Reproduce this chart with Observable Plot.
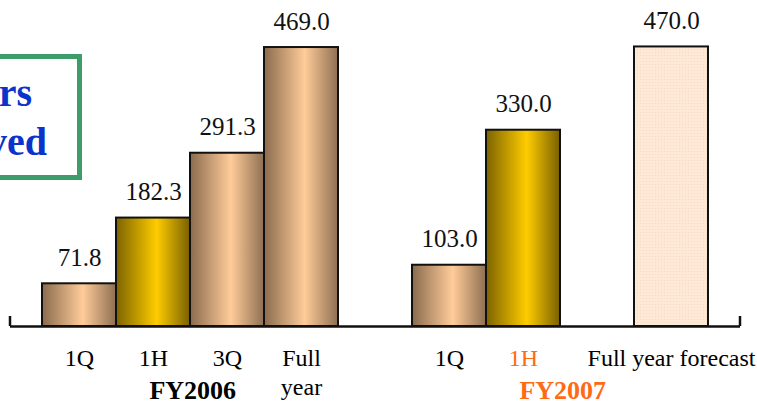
<!DOCTYPE html>
<html>
<head>
<meta charset="utf-8">
<script src="https://cdn.jsdelivr.net/npm/d3@7"></script>
<script src="https://cdn.jsdelivr.net/npm/@observablehq/plot@0.6"></script>
<style>
  html, body { margin: 0; padding: 0; background: #fff; }
  #wrap { position: relative; width: 757px; height: 405px; overflow: hidden; }
  #box { position: absolute; left: -60px; top: 54px; width: 132px; height: 116px;
         border: 5px solid #3c9d6b; background: #fff; }
  .boxtxt { position: absolute; font-family: "Liberation Serif", "Times New Roman", serif;
            font-weight: bold; font-size: 40px; line-height: 40px; color: #0a34cc;
            text-align: right; white-space: nowrap; }
</style>
</head>
<body>
<div id="wrap">
  <div id="chart"></div>
  <div id="box"></div>
  <div class="boxtxt" style="right:725px; top:72.5px;">rs</div>
  <div class="boxtxt" style="right:710px; top:121.5px;">ved</div>
</div>
<script>
// ---- data ----
const fy2006Periods = ["1Q", "1H", "3Q", "Full\nyear"];
const fy2006Values  = [71.8, 182.3, 291.3, 469.0];
const fy2006Types   = ["quarter", "half", "quarter", "quarter"];
const fy2007Periods = ["1Q", "1H", "Full year forecast"];
const fy2007Values  = [103.0, 330.0, 470.0];
const fy2007Types   = ["quarter", "half", "forecast"];
const groupNames    = ["FY2006", "FY2007"];

// ---- styles ----
const FONT = "Liberation Serif, Times New Roman, serif";
const ORANGE = "#ff6a14";
const fills = { quarter: "url(#gradQuarter)", half: "url(#gradHalf)", forecast: "url(#patForecast)" };

const rows = [];
fy2006Periods.forEach((p, i) => rows.push({ key: "FY2006|" + p, label: p, value: fy2006Values[i], type: fy2006Types[i], labelColor: "#000" }));
fy2007Periods.forEach((p, i) => rows.push({ key: "FY2007|" + p, label: p, value: fy2007Values[i], type: fy2007Types[i],
  labelColor: fy2007Types[i] === "half" ? ORANGE : "#000" }));

const domain = [
  ...rows.slice(0, 4).map(d => d.key), "gap1",
  ...rows.slice(4, 6).map(d => d.key), "gap2",
  rows[6].key
];

const marginLeft = 10, marginRight = 17, paddingOuter = 0.403;
const step = (757 - marginLeft - marginRight) / (domain.length + 2 * paddingOuter);

const groups = [
  { name: groupNames[0], anchor: rows[1].key, color: "#000" },
  { name: groupNames[1], anchor: rows[5].key, color: ORANGE }
];

const chart = Plot.plot({
  width: 757,
  height: 405,
  marginLeft, marginRight,
  marginTop: 28.6,
  marginBottom: 79,
  style: { fontFamily: FONT, background: "transparent" },
  x: { domain, paddingInner: 0, paddingOuter, axis: null },
  y: { domain: [0, 500], axis: null },
  color: { type: "identity" },
  marks: [
    Plot.barY(rows, { x: "key", y: "value", fill: d => fills[d.type], stroke: "#111", strokeWidth: 2 }),
    Plot.ruleY([0], { stroke: "#111", strokeWidth: 2.5 }),
    Plot.text(rows, { x: "key", y: "value", text: d => d.value.toFixed(1), dy: -26,
      fontSize: 25, fontFamily: FONT, fill: "#111" }),
    Plot.text(rows, { x: "key", text: "label", frameAnchor: "bottom", lineAnchor: "top", dy: 19,
      fontSize: 24, lineHeight: 1.21, fontFamily: FONT, fill: d => d.labelColor }),
    Plot.text(groups, { x: "anchor", text: "name", frameAnchor: "bottom", lineAnchor: "top",
      dy: 54, dx: step / 2 + 2, fontSize: 26, fontWeight: "bold", fontFamily: FONT, fill: d => d.color })
  ]
});

// gradient / pattern definitions
const svg = d3.select(chart);
const defs = svg.insert("defs", ":first-child");
function grad(id, edgeL, mid, edgeR) {
  const g = defs.append("linearGradient").attr("id", id).attr("x1", 0).attr("x2", 1).attr("y1", 0).attr("y2", 0);
  g.append("stop").attr("offset", "0%").attr("stop-color", edgeL);
  g.append("stop").attr("offset", "55%").attr("stop-color", mid);
  g.append("stop").attr("offset", "100%").attr("stop-color", edgeR);
}
grad("gradQuarter", "#8a6b4e", "#ffcc99", "#8e6f52");
grad("gradHalf", "#7c6300", "#ffcc00", "#786000");
const pat = defs.append("pattern").attr("id", "patForecast").attr("patternUnits", "userSpaceOnUse")
  .attr("width", 3).attr("height", 3);
pat.append("rect").attr("width", 3).attr("height", 3).attr("fill", "#fee8d6");
pat.append("circle").attr("cx", 1.5).attr("cy", 1.5).attr("r", 0.6).attr("fill", "#f8d8c0");

// axis end ticks
const xr = chart.scale("x").range, yr = chart.scale("y").range;
const y0 = Math.max(...yr);
[Math.min(...xr), Math.max(...xr)].forEach(x => {
  svg.append("line").attr("x1", x).attr("x2", x).attr("y1", y0 - 10).attr("y2", y0)
    .attr("stroke", "#111").attr("stroke-width", 2.5);
});

document.getElementById("chart").appendChild(chart);
</script>
</body>
</html>
